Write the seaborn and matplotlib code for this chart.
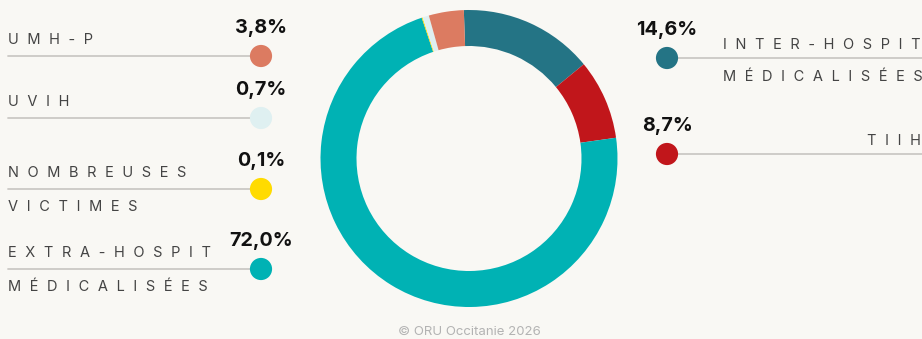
import matplotlib
matplotlib.use("Agg")
import matplotlib.pyplot as plt
import seaborn as sns
import pandas as pd

# Share of interventions by type
categories = ["INTER-HOSPIT MÉDICALISÉES", "TIIH", "EXTRA-HOSPIT MÉDICALISÉES",
              "NOMBREUSES VICTIMES", "UVIH", "UMH-P"]
label_lines = [["INTER-HOSPIT", "MÉDICALISÉES"], ["TIIH"],
               ["EXTRA-HOSPIT", "MÉDICALISÉES"], ["NOMBREUSES", "VICTIMES"],
               ["UVIH"], ["UMH-P"]]
values = [14.6, 8.7, 72.0, 0.1, 0.7, 3.8]
colors = ["#247485", "#c1161b", "#00b2b4", "#ffdb00", "#dff0f1", "#dc7b61"]
footer = "© ORU Occitanie 2026"

W, H = 922, 339
BG = "#f9f8f4"
LINE = "#cbc9c5"
TXT = "#444444"
SP = "\u2002\u200a"
FS = 10.5

sns.set_style("white", rc={"axes.facecolor": BG, "figure.facecolor": BG})
plt.rcParams["font.family"] = ["Inter", "DejaVu Sans"]

fig = plt.figure(figsize=(W / 100, H / 100), dpi=100)
ax = fig.add_axes([0, 0, 1, 1])


def Y(y):
    return H - y


def spaced(s):
    return SP.join(list(s))


def pct(v):
    return f"{v:.1f}".replace(".", ",") + "%"


# donut
cx, cy, r_out, ring = 469, 158.5, 148.5, 36
ax.pie(values, colors=colors, startangle=92, counterclock=False,
       center=(cx, Y(cy)), radius=r_out,
       wedgeprops=dict(width=ring, linewidth=0))

# label anchors: (side, dot x, dot y)
anchors = {
    "INTER-HOSPIT MÉDICALISÉES": ("right", 667, 58),
    "TIIH": ("right", 667, 154),
    "EXTRA-HOSPIT MÉDICALISÉES": ("left", 261, 269),
    "NOMBREUSES VICTIMES": ("left", 261, 189),
    "UVIH": ("left", 261, 118),
    "UMH-P": ("left", 261, 56),
}

rows = []
for cat, lines, v, c in zip(categories, label_lines, values, colors):
    side, dx, dy = anchors[cat]
    if side == "left":
        ax.plot([8, dx], [Y(dy), Y(dy)], color=LINE, lw=1.3, zorder=1)
        ax.text(8, Y(dy - 12), spaced(lines[0]), ha="left", va="baseline",
                fontsize=FS, color=TXT)
        if len(lines) > 1:
            ax.text(8, Y(dy + 22), spaced(lines[1]), ha="left", va="baseline",
                    fontsize=FS, color=TXT)
    else:
        ax.plot([dx, W], [Y(dy), Y(dy)], color=LINE, lw=1.3, zorder=1)
        ax.text(921, Y(dy - 9), spaced(lines[0]), ha="right", va="baseline",
                fontsize=FS, color=TXT)
        if len(lines) > 1:
            ax.text(923, Y(dy + 23), spaced(lines[1]), ha="right", va="baseline",
                    fontsize=FS, color=TXT)
    ax.text(dx, Y(dy - 23), pct(v), ha="center", va="baseline",
            fontsize=14.2, fontweight="bold", color="#111111")
    rows.append({"cat": cat, "x": dx, "y": Y(dy)})

dots = pd.DataFrame(rows)
sns.scatterplot(data=dots, x="x", y="y", hue="cat", palette=dict(zip(categories, colors)),
                s=255, linewidth=0, legend=False, ax=ax, zorder=3)

ax.text(469, Y(332), footer, ha="center", va="center", fontsize=9.5, color="#b3b3b3")

ax.set_xlim(0, W)
ax.set_ylim(0, H)
ax.set_aspect("equal")
ax.axis("off")
fig.savefig("out.png", dpi=100, facecolor=BG)
